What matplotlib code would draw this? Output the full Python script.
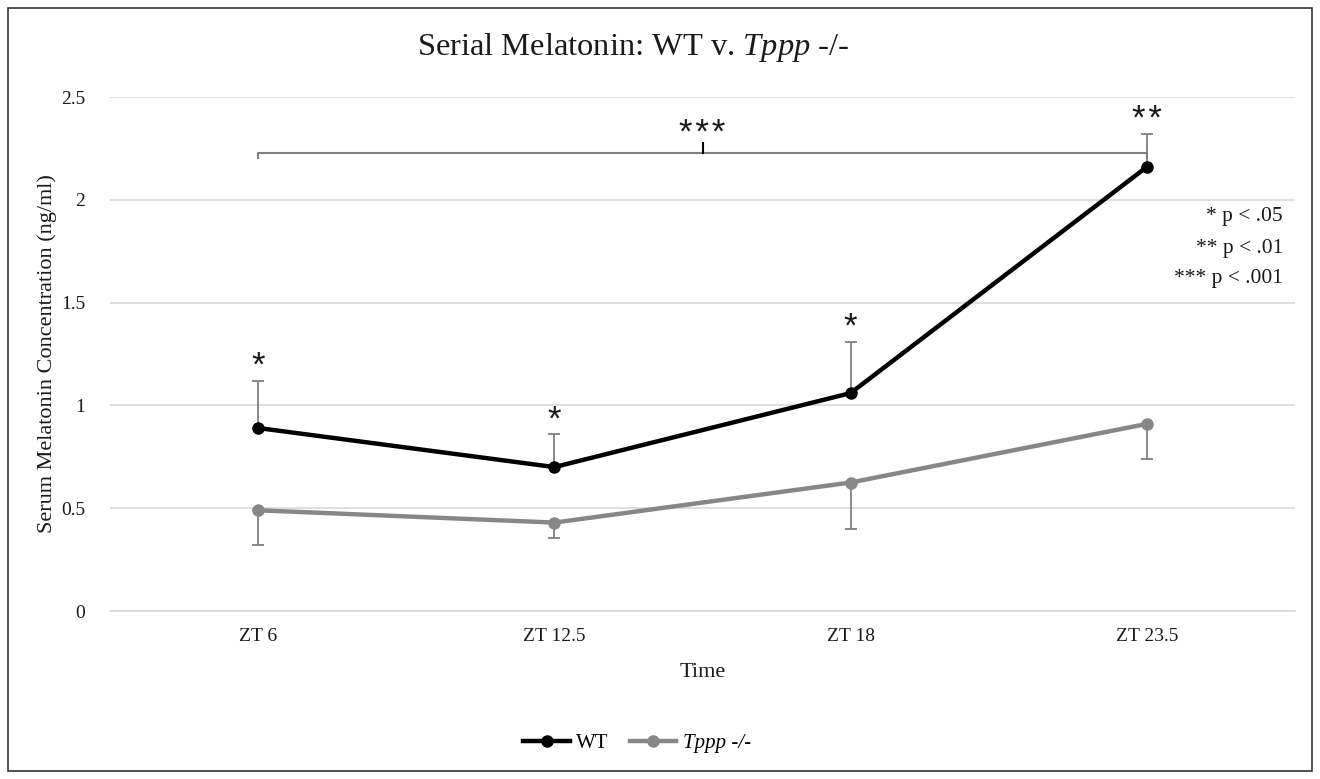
import matplotlib
matplotlib.use("Agg")
import matplotlib.pyplot as plt
from matplotlib.patches import Rectangle
import numpy as np

plt.rcParams["mathtext.fontset"] = "custom"
plt.rcParams["mathtext.it"] = "Liberation Serif:italic"
plt.rcParams["mathtext.rm"] = "Liberation Serif"

categories = ["ZT 6", "ZT 12.5", "ZT 18", "ZT 23.5"]
wt_values = [0.89, 0.70, 1.06, 2.16]
wt_err_upper = [0.23, 0.16, 0.25, 0.16]
ko_values = [0.49, 0.43, 0.625, 0.91]
ko_err_lower = [0.17, 0.075, 0.225, 0.17]
wt_stars = ["*", "*", "*", "**"]
yticks = [0, 0.5, 1, 1.5, 2, 2.5]
ytick_labels = ["0", "0.5", "1", "1.5", "2", "2.5"]

serif = "Liberation Serif"
starfam = ["Liberation Sans", "DejaVu Sans"]
txtc = "#1a1a1a"
fig = plt.figure(figsize=(13.2, 7.79), dpi=100)
ax = fig.add_axes([110/1320, 1-611/779, (1295-110)/1320, (611-97)/779])

x = np.arange(len(categories))
errc = "#808080"
ax.errorbar(x, wt_values, yerr=[np.zeros(4), wt_err_upper], fmt="none",
            ecolor=errc, elinewidth=1.3, capsize=4.5, capthick=1.3, zorder=2)
ax.errorbar(x, ko_values, yerr=[ko_err_lower, np.zeros(4)], fmt="none",
            ecolor=errc, elinewidth=1.3, capsize=4.5, capthick=1.3, zorder=2)
ln1, = ax.plot(x, wt_values, color="black", lw=3.2, marker="o", ms=8, zorder=4, label="WT")
ln2, = ax.plot(x, ko_values, color="#878787", lw=3.2, marker="o", ms=8, zorder=3, label="Tppp -/-")

for xi, v, e, s in zip(x, wt_values, wt_err_upper, wt_stars):
    ax.text(xi, v + e - 0.01, "\u200a".join(s), ha="center", va="bottom", fontsize=25,
            family=starfam, color=txtc)

# bracket
by = 2.23
ax.plot([0, 0, 3, 3], [by - 0.025, by, by, by - 0.025], color="#7f7f7f", lw=1.5, zorder=2)
ax.plot([1.5, 1.5], [by, by + 0.045], color="black", lw=1.5, zorder=2)
ax.text(1.5, by + 0.01, "*\u200a*\u200a*", ha="center", va="bottom", fontsize=25,
        family=starfam, color=txtc)

ax.set_xlim(-0.5, 3.5)
ax.set_ylim(0, 2.5)
ax.set_yticks(yticks)
ax.set_yticklabels(ytick_labels)
ax.set_xticks(x)
ax.set_xticklabels(categories)
ax.yaxis.grid(True, color="#d9d9d9", lw=1.2)
ax.set_axisbelow(True)
for sp in ["top", "left", "right"]:
    ax.spines[sp].set_visible(False)
ax.spines["bottom"].set_color("#d9d9d9")
ax.spines["bottom"].set_linewidth(1.2)
ax.tick_params(axis="both", length=0, labelsize=14, colors=txtc)
ax.tick_params(axis="y", pad=18)
ax.tick_params(axis="x", pad=12)
for lab in ax.get_xticklabels() + ax.get_yticklabels():
    lab.set_family(serif)

ax.set_xlabel("Time", family=serif, fontsize=16, labelpad=13, color=txtc)
ax.set_ylabel("Serum Melatonin Concentration (ng/ml)", family=serif, fontsize=16,
              labelpad=3, color=txtc)

fig.text(633/1320, 1-47/779, "Serial Melatonin: WT v. $\\mathit{Tppp}$ -/-", ha="center", va="center",
         family=serif, fontsize=23.4, color=txtc)

# significance key
for i, t in enumerate(["* p < .05", "** p < .01", "*** p < .001"]):
    fig.text(1283/1320, 1-(217 + 31*i)/779, t, ha="right", va="center",
             family=serif, fontsize=15.5, color=txtc)

leg = fig.legend([ln1, ln2], ["WT", "Tppp -/-"], loc="center", bbox_to_anchor=(637/1320, 1-743/779),
                 ncol=2, frameon=False, handlelength=2.25, handletextpad=0.3, columnspacing=1.0,
                 prop={"family": serif, "size": 15})
leg.get_texts()[1].set_style("italic")

fig.patches.append(Rectangle((8/1320, 8/779), 1-16/1320, 1-16/779, transform=fig.transFigure,
                             fill=False, edgecolor="#333333", lw=1.2))

fig.savefig("out.png", dpi=100)
